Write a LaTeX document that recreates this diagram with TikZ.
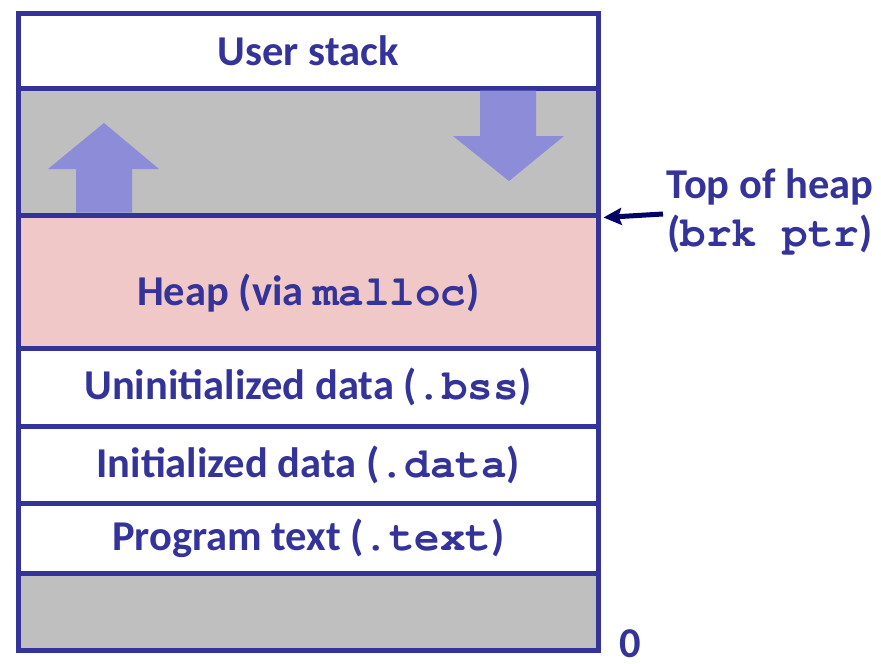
\documentclass[tikz,border=0pt]{standalone}
\usepackage{fontspec}
\setmainfont{Carlito}
\newfontfamily\codefont{TeX Gyre Cursor}
\usetikzlibrary{arrows.meta}
\definecolor{dblue}{HTML}{333399}
\definecolor{navy}{HTML}{000066}
\definecolor{bandgray}{HTML}{BFBFBF}
\definecolor{heappink}{HTML}{F0C8C8}
\definecolor{arrowfill}{HTML}{8C8CD8}
\newcommand{\cw}[1]{{\codefont\bfseries #1}}
\begin{document}
\begin{tikzpicture}[x=1pt,y=-1pt,
  band/.style={draw=dblue, line width=5pt, minimum width=579.5pt, inner sep=0pt,
    font=\fontsize{42.5}{50}\selectfont\bfseries, text=dblue},
  lbl/.style={font=\fontsize{42.5}{50}\selectfont\bfseries, text=dblue, inner sep=0pt},
  blk/.style={fill=arrowfill, draw=none}]
\useasboundingbox (0,0) rectangle (881,664);
\node[band, fill=white, minimum height=75pt] (stack) at (308.25,50.5) {User stack};
\node[band, fill=bandgray, minimum height=127pt] (gap) at (308.25,151.5) {};
\node[band, fill=heappink, minimum height=133pt] (heap) at (308.25,281.5) {};
\node[band, fill=white, minimum height=78pt] (bss) at (308.25,387) {Uninitialized data (\cw{.bss})};
\node[band, fill=white, minimum height=77pt] (data) at (308.25,464.5) {Initialized data (\cw{.data})};
\node[band, fill=white, minimum height=70pt] (text) at (308.25,538) {Program text (\cw{.text})};
\node[band, fill=bandgray, minimum height=77pt] (bottom) at (308.25,611.5) {};
\node[lbl] (heaplbl) at (308.25,293) {Heap (via \cw{malloc})};
% block arrows
\fill[blk] (76,212.5) -- (132,212.5) -- (132,169) -- (159,169) -- (104,123) -- (48,169) -- (76,169) -- cycle;
\fill[blk] (480,90.5) -- (536,90.5) -- (536,136) -- (564,136) -- (509,181) -- (453,136) -- (480,136) -- cycle;
% top of heap
\node[lbl, anchor=base] (top) at (770,198) {Top of heap};
\node[lbl, anchor=base] (brk) at (770,246) {(\cw{brk ptr})};
\coordinate (ptrstart) at (663,214);
\draw[navy, line width=5pt, -{Stealth[length=18pt,width=17pt,inset=3pt]}] (ptrstart) -- ([xshift=3pt]gap.south east);
\node[lbl, anchor=base] (zero) at (630,657) {0};
\end{tikzpicture}
\end{document}
